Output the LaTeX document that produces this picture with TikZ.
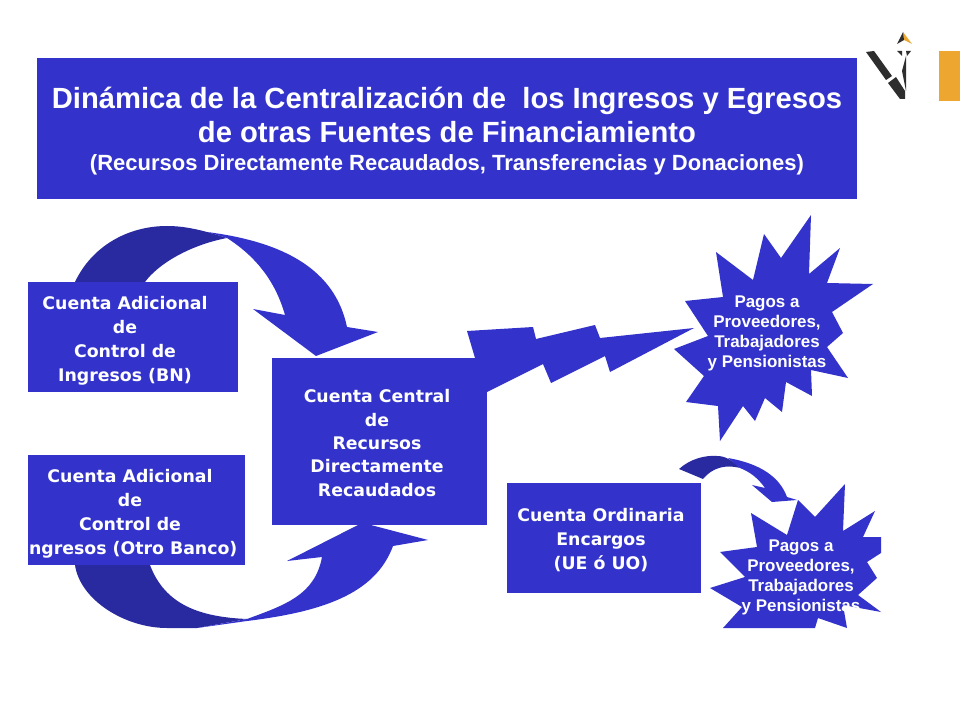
\documentclass[tikz,border=0pt]{standalone}
\usepackage{fontspec}
\setmainfont{Liberation Sans}
\newfontfamily\boxfont{DejaVu Sans}
\usetikzlibrary{positioning}
\definecolor{mainblue}{HTML}{3333CC}
\definecolor{darkblue}{HTML}{2A2AA0}
\definecolor{logogold}{HTML}{EDA62F}
\definecolor{logodark}{HTML}{2E2E2E}
\tikzset{
  block/.style={fill=mainblue, inner sep=0pt, anchor=north west},
  boxtext/.style={text=white, align=center, font=\boxfont\bfseries\fontsize{13}{18}\selectfont, inner sep=0pt},
  startext/.style={text=white, align=center, font=\bfseries\fontsize{12.7}{15}\selectfont, inner sep=0pt},
  titletext/.style={text=white, align=center, inner sep=0pt},
  shapefill/.style={fill=mainblue},
  shadefill/.style={fill=darkblue}
}

\begin{document}
\begin{tikzpicture}[x=0.75pt, y=-0.75pt]
  \useasboundingbox (0,0) rectangle (960,720);
  \fill[white] (0,0) rectangle (960,720);

  % Title band
  \node[block, minimum width=615pt, minimum height=105.75pt] (band) at (37,58) {};
  \node[titletext, font=\bfseries\fontsize{21.9}{26}\selectfont] (title) at (447,115) {Dinámica de la Centralización de\ \ los Ingresos y Egresos\\de otras Fuentes de Financiamiento};
  \node[titletext, font=\bfseries\fontsize{16.5}{18}\selectfont] (subtitle) at (447,164.5) {(Recursos Directamente Recaudados, Transferencias y Donaciones)};

  % Corner mark
  \node[block, fill=logogold, minimum width=15.75pt, minimum height=37.5pt] (tab) at (939,51) {};
  \fill[logogold] (903,32) -- (912,44) -- (904,40) -- cycle;
  \fill[logodark] (903,32) -- (897,44) -- (904,40) -- cycle;
  \fill[logodark] (866,52) -- (874,51) -- (892,76) -- (886,80) -- cycle;
  \fill[logodark] (888,83) -- (896,77) -- (905,91) -- (905,99) -- (900,99) -- cycle;
  \fill[logodark] (906,56) -- (902,71) -- (906,91) -- cycle;
  \fill[logodark] (897,51) -- (902,51) -- (902,56) -- cycle;
  \fill[logodark] (906,51) -- (911,51) -- (907,56) -- cycle;

  % Curved arrow, upper
  \fill[shadefill] (75,282) .. controls (92,246) and (128,226) .. (167,226)
    .. controls (187,226) and (205,231) .. (227,238)
    .. controls (190,245) and (158,264) .. (145,282) -- cycle;
  \fill[shapefill] (207,232) .. controls (285,242) and (335,270) .. (347,327)
    -- (378,332) -- (316,356) -- (253,309) -- (285,315)
    .. controls (275,280) and (255,256) .. (227,238) -- cycle;

  % Curved arrow, lower
  \fill[shadefill] (75,565) .. controls (80,600) and (125,628) .. (167,628)
    -- (197,628) -- (247,619)
    .. controls (200,617) and (165,605) .. (150,565) -- cycle;
  \fill[shapefill] (197,628) -- (247,619) .. controls (285,605) and (315,595) .. (322,557)
    -- (287,561) -- (358,525) -- (367,524) -- (428,540) -- (393,546)
    .. controls (375,595) and (320,612) .. (247,621) -- cycle;

  % Small curved arrow
  \fill[shadefill] (679,469) .. controls (690,459) and (705,455) .. (717,456)
    .. controls (725,456) and (732,460) .. (740,468)
    .. controls (725,464) and (712,468) .. (703,479) -- cycle;
  \fill[shapefill] (728,458) .. controls (762,464) and (780,478) .. (787,497)
    -- (797,500) -- (772,502) -- (752,485) -- (765,488)
    .. controls (758,478) and (750,472) .. (740,468) -- cycle;

  % Bolt towards the burst
  \fill[shapefill] (475,358) -- (467,331) -- (533,327) -- (536,339) -- (595,325)
    -- (600,338) -- (694,328) -- (610,372) -- (605,356) -- (551,383)
    -- (543,364) -- (487,392) -- cycle;

  % Bursts
  \fill[shapefill] (811,215) -- (809,274) -- (840,248) -- (827,283) -- (873,284)
    -- (832,312) -- (843,333) -- (827,347) -- (848,378) -- (811,370) -- (812,396)
    -- (786,382) -- (782,412) -- (765,398) -- (755,421) -- (743,406) -- (720,441)
    -- (718,406) -- (686,402) -- (704,376) -- (674,349) -- (708,336) -- (685,301)
    -- (723,297) -- (716,252) -- (753,280) -- (764,234) -- (781,258) -- cycle;
  \fill[shapefill] (798,500) -- (815,517) -- (845,484) -- (843,531) -- (875,511)
    -- (863,537) -- (881,537) -- (881,553) -- (867,562) -- (877,578) -- (858,595)
    -- (881,612) -- (843,605) -- (847,628) -- (818,618) -- (815,628) -- (723,628)
    -- (742,607) -- (710,588) -- (745,577) -- (720,552) -- (757,547) -- (751,513)
    -- (787,535) -- cycle;

  % Boxes
  \node[block, minimum width=157.5pt, minimum height=82.5pt] (bn) at (28,282) {};
  \node[block, minimum width=162.75pt, minimum height=82.5pt] (otro) at (28,455) {};
  \node[block, minimum width=161.25pt, minimum height=125.25pt] (central) at (272,358) {};
  \node[block, minimum width=145.5pt, minimum height=82.5pt] (encargos) at (507,483) {};

  % Texts
  \node[boxtext] (bntext) at (125,341) {Cuenta Adicional\\de\\Control de\\Ingresos (BN)};
  \node[boxtext] (otrotext) at (130,514) {Cuenta Adicional\\de\\Control de\\Ingresos (Otro Banco)};
  \node[boxtext, font=\boxfont\bfseries\fontsize{13}{17.5}\selectfont] (centraltext) at (377,443) {Cuenta Central\\de\\Recursos\\Directamente\\Recaudados};
  \node[boxtext] (encargostext) at (601,540) {Cuenta Ordinaria\\Encargos\\(UE ó UO)};
  \node[startext] (pagosa) at (767,333) {Pagos a\\Proveedores,\\Trabajadores\\y Pensionistas};
  \node[startext] (pagosb) at (801,577) {Pagos a\\Proveedores,\\Trabajadores\\y Pensionistas};
\end{tikzpicture}
\end{document}
